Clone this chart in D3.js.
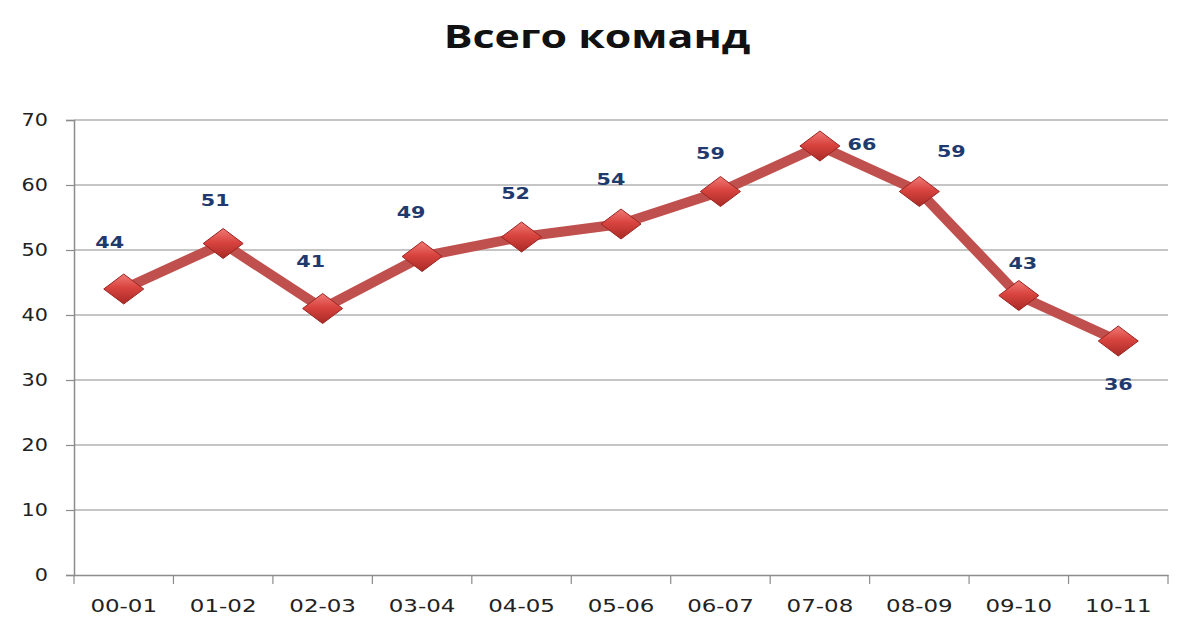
<!DOCTYPE html>
<html>
<head>
<meta charset="utf-8">
<script src="https://cdn.jsdelivr.net/npm/d3@7.9.0/dist/d3.min.js"></script>
<style>
  body { margin: 0; background: #fff; }
  svg { display: block; }
</style>
</head>
<body>
<svg width="1200" height="630"></svg>
<script>
// data
const seasons = ['00-01', '01-02', '02-03', '03-04', '04-05', '05-06', '06-07', '07-08', '08-09', '09-10', '10-11'];
const teams = [44, 51, 41, 49, 52, 54, 59, 66, 59, 43, 36];
const yTicks = [0, 10, 20, 30, 40, 50, 60, 70];
// label nudges (dx, dy) from each point, as placed in the picture
const labelNudge = [[-14, -46], [-8, -43], [-12, -47], [-11, -44], [-6, -43], [-10, -44],
                    [-10, -38], [42, -1], [32, -40], [4, -32], [0, 44]];

const svg = d3.select('svg');
const margin = { top: 120, right: 32, bottom: 55, left: 74 };
const width = 1200 - margin.left - margin.right;
const height = 630 - margin.top - margin.bottom;

const g = svg.append('g').attr('transform', `translate(${margin.left},${margin.top})`);

const x = d3.scaleBand().domain(seasons).range([0, width]);
const y = d3.scaleLinear().domain([0, 70]).range([height, 0]);

// title
svg.append('text')
  .attr('transform', `translate(597,48) scale(1.3,1)`)
  .attr('text-anchor', 'middle')
  .attr('font-family', 'Open Sans, Liberation Sans, sans-serif')
  .attr('font-weight', 'bold')
  .attr('font-size', 33)
  .attr('fill', '#111')
  .text('Всего команд');

// gridlines
g.append('g')
  .selectAll('line')
  .data(yTicks.filter(d => d > 0))
  .join('line')
  .attr('x1', 0).attr('x2', width)
  .attr('y1', d => y(d)).attr('y2', d => y(d))
  .attr('stroke', '#8c8c8c')
  .attr('stroke-width', 1.2);

// y axis
const yAxis = g.append('g')
  .call(d3.axisLeft(y).tickValues(yTicks).tickSize(8).tickPadding(0));
yAxis.select('.domain').attr('stroke', '#8c8c8c').attr('stroke-width', 1.5);
yAxis.selectAll('.tick line').attr('stroke', '#8c8c8c').attr('stroke-width', 1.2);
yAxis.selectAll('.tick text')
  .attr('x', null)
  .attr('text-anchor', 'end')
  .attr('dy', '0.35em')
  .attr('transform', `translate(-26,0) scale(1.22,1)`)
  .attr('font-family', 'DejaVu Sans, sans-serif')
  .attr('font-size', 17)
  .attr('fill', '#222');

// x axis
const xAxis = g.append('g')
  .attr('transform', `translate(0,${height})`)
  .call(d3.axisBottom(x).tickSize(0).tickPadding(0));
xAxis.select('.domain').attr('stroke', '#8c8c8c').attr('stroke-width', 1.5);
xAxis.selectAll('.tick text')
  .attr('y', null)
  .attr('dy', null)
  .attr('transform', `translate(0,37) scale(1.35,1)`)
  .attr('font-family', 'DejaVu Sans, sans-serif')
  .attr('font-size', 17)
  .attr('fill', '#222');
// category boundary ticks
g.append('g')
  .selectAll('line')
  .data(d3.range(seasons.length + 1))
  .join('line')
  .attr('x1', i => i * x.step()).attr('x2', i => i * x.step())
  .attr('y1', height).attr('y2', height + 9)
  .attr('stroke', '#8c8c8c')
  .attr('stroke-width', 1.2);

// line
const cx = d => x(d) + x.bandwidth() / 2;
const line = d3.line()
  .x((d, i) => cx(seasons[i]))
  .y(d => y(d));

g.append('path')
  .datum(teams)
  .attr('d', line)
  .attr('fill', 'none')
  .attr('stroke', '#c0504d')
  .attr('stroke-width', 10)
  .attr('stroke-linejoin', 'round');

// marker gradient
const defs = svg.append('defs');
const grad = defs.append('linearGradient').attr('id', 'mk').attr('x1', 0).attr('y1', 0).attr('x2', 0).attr('y2', 1);
grad.append('stop').attr('offset', '0%').attr('stop-color', '#f07a76');
grad.append('stop').attr('offset', '45%').attr('stop-color', '#d9443f');
grad.append('stop').attr('offset', '100%').attr('stop-color', '#a92a26');

const mw = 20, mh = 15;
g.append('g')
  .selectAll('path')
  .data(teams)
  .join('path')
  .attr('transform', (d, i) => `translate(${cx(seasons[i])},${y(d)})`)
  .attr('d', `M0,${-mh}L${mw},0L0,${mh}L${-mw},0Z`)
  .attr('fill', 'url(#mk)')
  .attr('stroke', '#9b2522')
  .attr('stroke-width', 1);

// value labels
g.append('g')
  .selectAll('text')
  .data(teams)
  .join('text')
  .attr('transform', (d, i) => {
    const o = labelNudge[i];
    return `translate(${cx(seasons[i]) + o[0]},${y(d) + o[1]}) scale(1.38,1)`;
  })
  .attr('text-anchor', 'middle')
  .attr('dy', '0.35em')
  .attr('font-family', 'DejaVu Sans, sans-serif')
  .attr('font-weight', 'bold')
  .attr('font-size', 15)
  .attr('fill', '#1f3a6e')
  .text(d => d);
</script>
</body>
</html>
